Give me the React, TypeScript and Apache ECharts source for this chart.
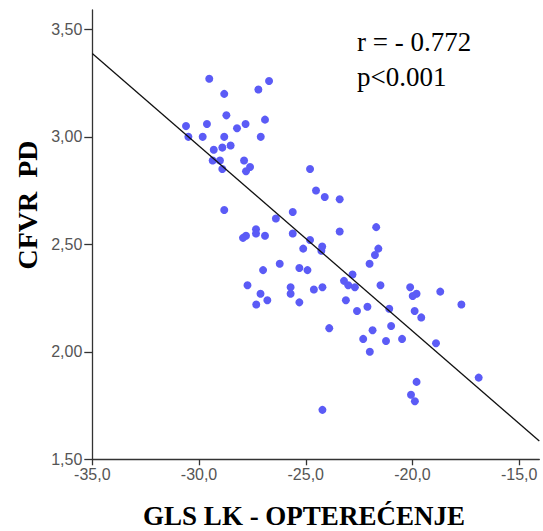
import React, { useEffect, useRef } from "react";
import * as echarts from "echarts";

// GLS LK - opterećenje (x) and CFVR PD (y)
const glsValues: number[] = [
  -29.52, -26.72, -27.22, -28.82, -28.72, -30.61, -29.63, -27.82, -26.91, -28.22,
  -30.5, -29.83, -28.82, -27.11, -28.52, -28.91, -29.31, -29.36, -29.02, -28.91,
  -27.89, -27.61, -27.8, -24.8, -24.52, -24.11, -23.41, -28.82, -25.61, -26.4,
  -21.7, -23.41, -27.33, -27.33, -27.8, -27.94, -26.91, -25.61, -24.8, -24.23,
  -24.27, -25.12, -21.6, -21.76, -22.01, -26.22, -25.3, -24.92, -27.0, -22.81,
  -23.21, -23.01, -22.7, -21.5, -24.62, -24.22, -20.11, -19.81, -19.99, -23.12,
  -27.73, -27.12, -26.8, -27.32, -25.71, -25.71, -25.3, -18.7, -22.6, -22.11,
  -21.09, -19.9, -19.59, -17.71, -23.9, -21.87, -21.0, -22.31, -21.24, -20.49,
  -22.0, -18.9, -16.9, -19.81, -20.07, -19.89, -24.22,
];
const cfvrValues: number[] = [
  3.27, 3.26, 3.22, 3.2, 3.1, 3.05, 3.06, 3.06, 3.08, 3.04,
  3.0, 3.0, 3.0, 3.0, 2.96, 2.95, 2.94, 2.89, 2.89, 2.85,
  2.89, 2.86, 2.84, 2.85, 2.75, 2.72, 2.71, 2.66, 2.65, 2.62,
  2.58, 2.56, 2.57, 2.55, 2.54, 2.53, 2.54, 2.55, 2.52, 2.49,
  2.47, 2.48, 2.48, 2.45, 2.41, 2.41, 2.39, 2.38, 2.38, 2.36,
  2.33, 2.31, 2.3, 2.31, 2.29, 2.3, 2.3, 2.27, 2.26, 2.24,
  2.31, 2.27, 2.24, 2.22, 2.3, 2.27, 2.23, 2.28, 2.19, 2.21,
  2.2, 2.19, 2.16, 2.22, 2.11, 2.1, 2.12, 2.06, 2.05, 2.06,
  2.0, 2.04, 1.88, 1.86, 1.8, 1.77, 1.73,
];

// fit line end points
const fitX: number[] = [-35, -14.06];
const fitY: number[] = [3.388, 1.585];

const xTicks: number[] = [-35, -30, -25, -20, -15];
const yTicks: number[] = [1.5, 2.0, 2.5, 3.0, 3.5];

const statLines: string[] = ["r = - 0.772", "p<0.001"];
const xTitle = "GLS LK - OPTEREĆENJE";
const yTitle = "CFVR  PD";

export default function App() {
  const ref = useRef<HTMLDivElement>(null);
  useEffect(() => {
    if (!ref.current) return;
    const chart = echarts.init(ref.current, null, { renderer: "svg" });
    const points = glsValues.map((x, i) => [x, cfvrValues[i]]);
    const fit = fitX.map((x, i) => [x, fitY[i]]);
    const labelFont = { fontFamily: "Liberation Sans", fontSize: 16, color: "#555" };
    chart.setOption({
      animation: false,
      backgroundColor: "#fff",
      grid: { left: 92.3, right: 3.7, top: 10, bottom: 71.7, containLabel: false },
      xAxis: {
        type: "value",
        min: -35,
        max: -14.06,
        interval: 5,
        splitLine: { show: false },
        axisLine: { show: true, onZero: false, lineStyle: { color: "#333", width: 1.3 } },
        axisTick: { show: true, length: 6, customValues: xTicks, lineStyle: { color: "#333", width: 1.3 } },
        axisLabel: {
          ...labelFont,
          margin: 7,
          customValues: xTicks,
          formatter: (v: number) => v.toFixed(1).replace(".", ","),
        },
      },
      yAxis: {
        type: "value",
        min: 1.5,
        max: 3.59,
        interval: 0.5,
        splitLine: { show: false },
        axisLine: { show: true, onZero: false, lineStyle: { color: "#333", width: 1.3 } },
        axisTick: { show: true, length: 8, customValues: yTicks, lineStyle: { color: "#333", width: 1.3 } },
        axisLabel: {
          ...labelFont,
          margin: 10,
          customValues: yTicks,
          formatter: (v: number) => v.toFixed(2).replace(".", ","),
        },
      },
      series: [
        {
          type: "line",
          data: fit,
          symbol: "none",
          lineStyle: { color: "#111", width: 1.3 },
          z: 3,
        },
        {
          type: "scatter",
          data: points,
          symbol: "circle",
          symbolSize: 8,
          itemStyle: { color: "#5b5bf6", opacity: 1 },
          z: 2,
        },
      ],
      graphic: [
        {
          type: "text",
          left: 357,
          top: 24,
          style: {
            text: statLines.join("\n"),
            fontFamily: "Liberation Serif",
            fontSize: 27,
            lineHeight: 35,
            fill: "#000",
          },
        },
        {
          type: "text",
          x: 304,
          y: 516,
          style: {
            text: xTitle,
            fontFamily: "Liberation Serif",
            fontWeight: "bold",
            fontSize: 27,
            fill: "#000",
            align: "center",
            verticalAlign: "middle",
          },
        },
        {
          type: "text",
          x: 27,
          y: 205,
          rotation: Math.PI / 2,
          style: {
            text: yTitle,
            fontFamily: "Liberation Serif",
            fontWeight: "bold",
            fontSize: 28,
            fill: "#000",
            align: "center",
            verticalAlign: "middle",
          },
        },
      ],
    });
    return () => chart.dispose();
  }, []);
  return (
    <div
      ref={ref}
      style={{ position: "fixed", left: 0, top: 0, width: 543, height: 531 }}
    />
  );
}
